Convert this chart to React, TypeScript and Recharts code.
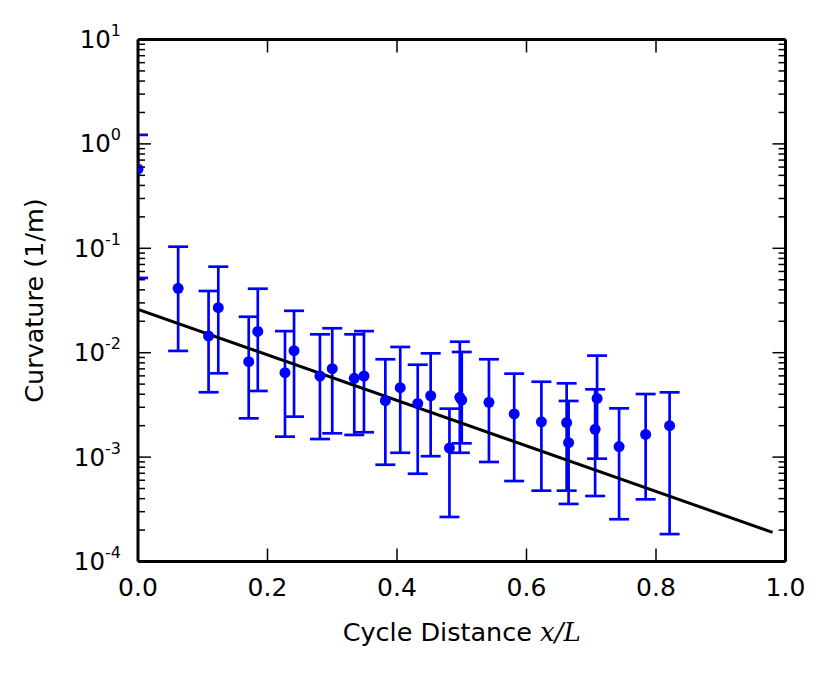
import React from "react";
import {
  ComposedChart,
  Scatter,
  Line,
  ErrorBar,
  XAxis,
  YAxis,
} from "recharts";

// measured curvature per cycle position: value, lower and upper error bar ends
const xs = [
  0.0, 0.062, 0.109, 0.124, 0.171, 0.185, 0.227, 0.241, 0.281, 0.3, 0.334,
  0.349, 0.382, 0.405, 0.432, 0.452, 0.481, 0.497, 0.5, 0.542, 0.581, 0.623,
  0.662, 0.665, 0.709, 0.706, 0.743, 0.784, 0.821,
];
const curv = [
  0.575, 0.0414, 0.01445, 0.027, 0.0082, 0.016, 0.00644, 0.01045, 0.00598,
  0.00703, 0.00569, 0.00598, 0.00347, 0.00462, 0.00327, 0.00387, 0.00122,
  0.00374, 0.00352, 0.00335, 0.00259, 0.00218, 0.00214, 0.001374, 0.00365,
  0.001845, 0.00126, 0.00165, 0.002,
];
const lower = [
  0.052, 0.0104, 0.00418, 0.00635, 0.00235, 0.0043, 0.00157, 0.00244, 0.00149,
  0.00169, 0.00163, 0.00173, 0.000845, 0.0011, 0.000693, 0.00102, 0.000267,
  0.0011, 0.001355, 0.000898, 0.00059, 0.000477, 0.000477, 0.000356, 0.000966,
  0.000424, 0.000254, 0.000394, 0.000183,
];
const upper = [
  1.22, 0.1036, 0.039, 0.0667, 0.0221, 0.041, 0.0161, 0.0252, 0.015, 0.01714,
  0.015, 0.0161, 0.00865, 0.01135, 0.00767, 0.00986, 0.00291, 0.01274, 0.01016,
  0.00865, 0.0063, 0.00527, 0.00509, 0.00345, 0.00938, 0.00446, 0.00293,
  0.00402, 0.00417,
];

// exponential fit, straight on the log axis
const fitX = [0.0, 0.98];
const fitY = [0.026, 0.00019];

const xTicks = [0, 0.2, 0.4, 0.6, 0.8, 1.0];
const yMajor = [1e-4, 1e-3, 1e-2, 1e-1, 1, 10];

const points = xs.map((x, i) => ({
  x,
  y: curv[i],
  err: [curv[i] - lower[i], upper[i] - curv[i]],
}));
const fit = fitX.map((x, i) => ({ x, y: fitY[i] }));

const yTicks: number[] = [];
yMajor.forEach((m, i) => {
  yTicks.push(m);
  if (i < yMajor.length - 1) for (let k = 2; k <= 9; k++) yTicks.push(m * k);
});

const FONT = "DejaVu Sans, Bitstream Vera Sans, sans-serif";
const BLUE = "#0000ff";
const CLIP = "url(#plotClipX)";

function isMajor(v: number) {
  const l = Math.log10(v);
  return Math.abs(l - Math.round(l)) < 1e-6;
}

const LeftTick = (props: any) => {
  const { x, y, payload } = props;
  const v = payload.value;
  const major = isMajor(v);
  const exp = Math.round(Math.log10(v));
  return (
    <g>
      <line x1={x} x2={x + (major ? 13 : 7)} y1={y} y2={y} stroke="#000" strokeWidth={1.5} />
      {major && (
        <text x={x - 17} y={y + 8.5} textAnchor="end" fontFamily={FONT} fontSize={24.5} fill="#000">
          10
          <tspan dy={-12} fontSize={16}>
            {exp}
          </tspan>
        </text>
      )}
    </g>
  );
};

const RightTick = (props: any) => {
  const { x, y, payload } = props;
  const major = isMajor(payload.value);
  return <line x1={x} x2={x - (major ? 13 : 7)} y1={y} y2={y} stroke="#000" strokeWidth={1.5} />;
};

const BottomTick = (props: any) => {
  const { x, y, payload } = props;
  return (
    <g>
      <line x1={x} x2={x} y1={y} y2={y - 13} stroke="#000" strokeWidth={1.5} />
      <text x={x} y={y + 34.5} textAnchor="middle" fontFamily={FONT} fontSize={25} fill="#000">
        {payload.value.toFixed(1)}
      </text>
    </g>
  );
};

const TopTick = (props: any) => {
  const { x, y } = props;
  return <line x1={x} x2={x} y1={y} y2={y + 13} stroke="#000" strokeWidth={1.5} />;
};

const XLabel = (props: any) => {
  const { viewBox } = props;
  const cx = viewBox.x + viewBox.width / 2;
  return (
    <g>
      {/* horizontal clip to the plot box, used by the markers and error bars */}
      <defs>
        <clipPath id="plotClipX">
          <rect x={viewBox.x} y={0} width={viewBox.width} height={2000} />
        </clipPath>
      </defs>
      <text x={cx} y={viewBox.y + 79.5} textAnchor="middle" fontFamily={FONT} fontSize={25.5} fill="#000">
        Cycle Distance{" "}
        <tspan fontFamily="DejaVu Serif, serif" fontStyle="italic" fontSize={26}>
          x/L
        </tspan>
      </text>
    </g>
  );
};

const YLabel = (props: any) => {
  const { viewBox } = props;
  const cy = viewBox.y + viewBox.height / 2;
  const lx = 43;
  return (
    <text
      x={lx}
      y={cy}
      transform={`rotate(-90, ${lx}, ${cy})`}
      textAnchor="middle"
      fontFamily={FONT}
      fontSize={25.5}
      fill="#000"
    >
      Curvature (1/m)
    </text>
  );
};

const Dot = (p: any) => <circle cx={p.cx} cy={p.cy} r={5.5} fill={BLUE} clipPath={CLIP} />;

const axisLine = { stroke: "#000", strokeWidth: 3 };

export default function App() {
  return (
    <div style={{ position: "absolute", left: 0, top: 0, background: "#fff" }}>
      <ComposedChart
        width={831}
        height={673}
        margin={{ top: 38.5, right: 44.5, bottom: 51.5, left: 58 }}
      >
        <XAxis
          dataKey="x"
          type="number"
          domain={[0, 1]}
          ticks={xTicks}
          interval={0}
          allowDataOverflow
          height={60}
          tickSize={0}
          tickMargin={0}
          tickLine={false}
          axisLine={axisLine}
          tick={<BottomTick />}
          label={<XLabel />}
        />
        <XAxis
          xAxisId="top"
          dataKey="x"
          orientation="top"
          type="number"
          domain={[0, 1]}
          ticks={xTicks}
          interval={0}
          allowDataOverflow
          height={1}
          tickSize={0}
          tickMargin={0}
          tickLine={false}
          axisLine={axisLine}
          tick={<TopTick />}
        />
        <YAxis
          dataKey="y"
          type="number"
          scale="log"
          domain={[1e-4, 10]}
          ticks={yTicks}
          interval={0}
          allowDataOverflow
          width={80}
          tickSize={0}
          tickMargin={0}
          tickLine={false}
          axisLine={axisLine}
          tick={<LeftTick />}
          label={<YLabel />}
        />
        <YAxis
          yAxisId="right"
          dataKey="y"
          orientation="right"
          type="number"
          scale="log"
          domain={[1e-4, 10]}
          ticks={yTicks}
          interval={0}
          allowDataOverflow
          width={1}
          tickSize={0}
          tickMargin={0}
          tickLine={false}
          axisLine={axisLine}
          tick={<RightTick />}
        />
        <Scatter data={points} dataKey="y" fill={BLUE} isAnimationActive={false} shape={<Dot />}>
          <ErrorBar
            dataKey="err"
            direction="y"
            width={10}
            stroke={BLUE}
            strokeWidth={2.7}
            clipPath={CLIP}
            isAnimationActive={false}
          />
        </Scatter>
        {/* fit drawn on the mirrored top/right axes (same domains) so those spines render */}
        <Line
          data={fit}
          xAxisId="top"
          yAxisId="right"
          dataKey="y"
          type="linear"
          stroke="#000"
          strokeWidth={3}
          dot={false}
          activeDot={false}
          isAnimationActive={false}
        />
      </ComposedChart>
    </div>
  );
}
